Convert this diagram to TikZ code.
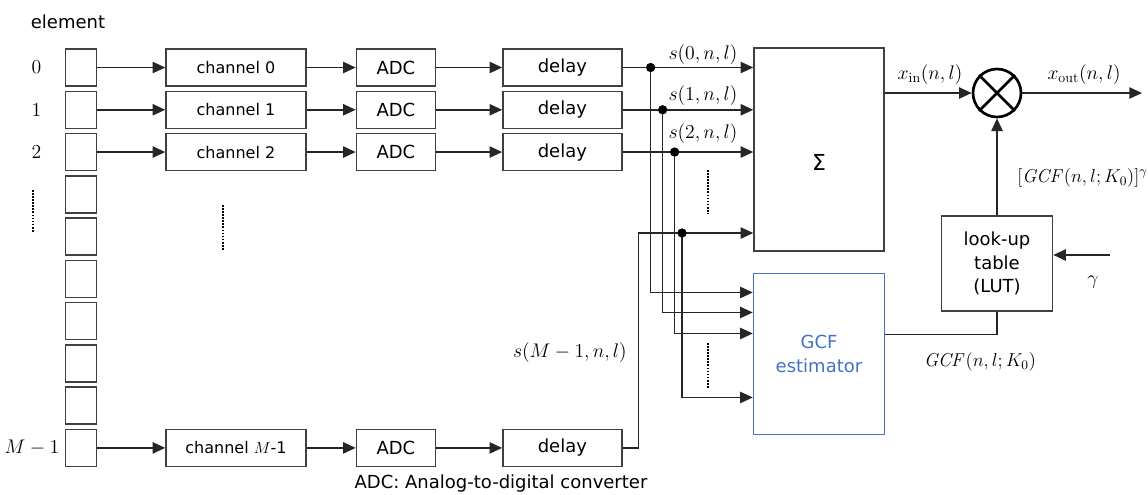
\RequirePackage{fix-cm}
\documentclass[tikz,border=0pt]{standalone}
\usepackage[no-math]{fontspec}
\setmainfont{DejaVu Sans}
\usepackage{amsmath}
\usepackage{xcolor}
\usepackage{tikz}
\usetikzlibrary{arrows.meta, positioning, calc}
\definecolor{gcfblue}{HTML}{4472C4}
\definecolor{boxgray}{HTML}{404040}

\begin{document}
\begin{tikzpicture}[
    x=0.75pt, y=-0.75pt,
    font=\fontsize{13.5}{17.5}\selectfont,
    elem/.style={rectangle, draw=boxgray, line width=1.1pt, minimum width=23.25pt,
                 minimum height=27.75pt, inner sep=0pt},
    blk/.style={rectangle, draw=boxgray, line width=1.1pt, minimum height=27.75pt,
                inner sep=0pt, align=center},
    chan/.style={blk, minimum width=105pt, font=\fontsize{12}{14}\selectfont},
    adc/.style={blk, minimum width=59.25pt},
    dly/.style={blk, minimum width=89.25pt},
    arrow/.style={-{Triangle[length=9.5pt, width=8.5pt]}, line width=1.1pt, color=black!85},
    wire/.style={line width=1.1pt, color=black!85},
    junc/.style={circle, fill=black, inner sep=0pt, minimum size=7pt},
    vdots/.style={densely dotted, line width=1.3pt},
    tlabel/.style={inner sep=0pt},
    mlabel/.style={inner sep=0pt, font=\fontsize{14.8}{18}\selectfont},
]
\useasboundingbox (0,0) rectangle (1148,494);

% Array elements
\node[tlabel] (elemlbl) at (68,22) {element};
\node[elem] (e0) at (81,67.5) {};
\node[elem, below=2.85pt of e0] (e1) {};
\node[elem, below=2.85pt of e1] (e2) {};
\node[elem, below=2.85pt of e2] (e3) {};
\node[elem, below=2.85pt of e3] (e4) {};
\node[elem, below=2.85pt of e4] (e5) {};
\node[elem, below=2.85pt of e5] (e6) {};
\node[elem, below=2.85pt of e6] (e7) {};
\node[elem, below=2.85pt of e7] (e8) {};
\node[elem, below=2.85pt of e8] (e9) {};
\node[mlabel, left=17.5pt of e0] (n0) {$0$};
\node[mlabel, left=17.5pt of e1] (n1) {$1$};
\node[mlabel, left=17.5pt of e2] (n2) {$2$};
\node[mlabel, left=4pt of e9] (nM) {$M-1$};
\draw[vdots] (33,190) -- (33,232);

% Receive channels
\node[chan, right=51pt of e0] (c0) {channel 0};
\node[chan, right=51pt of e1] (c1) {channel 1};
\node[chan, right=51pt of e2] (c2) {channel 2};
\node[chan, right=51pt of e9] (cM) {channel $M$-1};
\draw[vdots] (223,205) -- (223,250);

% ADCs
\node[adc, right=36.75pt of c0] (a0) {ADC};
\node[adc, right=36.75pt of c1] (a1) {ADC};
\node[adc, right=36.75pt of c2] (a2) {ADC};
\node[adc, right=36.75pt of cM] (aM) {ADC};

% Delays
\node[dly, right=49.5pt of a0] (d0) {delay};
\node[dly, right=49.5pt of a1] (d1) {delay};
\node[dly, right=49.5pt of a2] (d2) {delay};
\node[dly, right=49.5pt of aM] (dM) {delay};

% Arrows along the rows
\draw[arrow] (e0) -- (c0);
\draw[arrow] (e1) -- (c1);
\draw[arrow] (e2) -- (c2);
\draw[arrow] (e9) -- (cM);
\draw[arrow] (c0) -- (a0);
\draw[arrow] (c1) -- (a1);
\draw[arrow] (c2) -- (a2);
\draw[arrow] (cM) -- (aM);
\draw[arrow] (a0) -- (d0);
\draw[arrow] (a1) -- (d1);
\draw[arrow] (a2) -- (d2);
\draw[arrow] (aM) -- (dM);

% Summation and GCF estimator
\node[blk, minimum width=97.5pt, minimum height=152.25pt] (sum) at (819,149.5) {};
\node[tlabel, font=\fontsize{16.5}{18}\selectfont] (sig) at ($(sum.center)+(0,13)$) {Σ};
\node[blk, draw=gcfblue, text=gcfblue, minimum width=98.25pt, minimum height=120.75pt,
      below=15.75pt of sum] (gcf) {GCF\\estimator};

% Branch points
\coordinate (j0) at ($(d0.east)+(28,0)$);
\coordinate (j1) at ($(d1.east)+(40,0)$);
\coordinate (j2) at ($(d2.east)+(52,0)$);
\coordinate (rM) at ($(dM.east)+(16,0)$);
\coordinate (jM) at (682,233);

\draw[arrow] (d0) -- (d0 -| sum.west);
\draw[arrow] (d1) -- (d1 -| sum.west);
\draw[arrow] (d2) -- (d2 -| sum.west);
\draw[arrow] (dM.east) -| (rM |- jM) -- (jM -| sum.west);
\draw[vdots] (708,170) -- (708,213);

\draw[arrow] (j0) |- ($(gcf.west)+(0,-61.5)$);
\draw[arrow] (j1) |- ($(gcf.west)+(0,-41.5)$);
\draw[arrow] (j2) |- ($(gcf.west)+(0,-20.5)$);
\draw[arrow] (jM) |- ($(gcf.west)+(0,43.5)$);
\draw[vdots] (708,343) -- (708,388);

\node[junc] (dot0) at (j0) {};
\node[junc] (dot1) at (j1) {};
\node[junc] (dot2) at (j2) {};
\node[junc] (dotM) at (jM) {};

% Signal labels
\node[mlabel] (s0) at (703,55) {$s(0,n,l)$};
\node[mlabel] (s1) at (703,96) {$s(1,n,l)$};
\node[mlabel] (s2) at (703,134) {$s(2,n,l)$};
\node[mlabel, anchor=east] (sM) at (627,353) {$s(M-1,n,l)$};

% Weighting
\node[circle, draw=black, line width=2pt, minimum size=36pt, inner sep=0pt] (mult) at (997,93) {};
\draw[line width=2pt] (mult.north west) -- (mult.south east)
                      (mult.north east) -- (mult.south west);
\node[blk, minimum width=83.25pt, minimum height=71.25pt, below=72.75pt of mult] (lut)
      {look-up\\table\\(LUT)};
\coordinate (xout) at (1142,93);
\coordinate (gin) at (1110,255);

\draw[arrow] (sum.east |- mult) -- (mult);
\draw[arrow] (mult) -- (xout);
\draw[arrow] (lut) -- (mult);
\draw[wire] ($(gcf.east)+(0,-19.5)$) -| (lut.south);
\draw[arrow] (gin) -- (gin -| lut.east);

\node[mlabel] (xin) at (930,75) {$x_{\mathrm{in}}(n,l)$};
\node[mlabel] (xo) at (1084,75) {$x_{\mathrm{out}}(n,l)$};
\node[mlabel, font=\fontsize{14}{17}\selectfont, anchor=west] (gcfg) at (1017,178)
      {$[\mathit{GCF}(n,l;K_0)]^{\gamma}$};
\node[mlabel, font=\fontsize{14}{17}\selectfont] (gcfo) at (980,362) {$\mathit{GCF}(n,l;K_0)$};
\node[mlabel] (gam) at (1093,282) {$\gamma$};

% Caption
\node[tlabel] (cap) at (501,484) {ADC: Analog-to-digital converter};

\end{tikzpicture}
\end{document}
